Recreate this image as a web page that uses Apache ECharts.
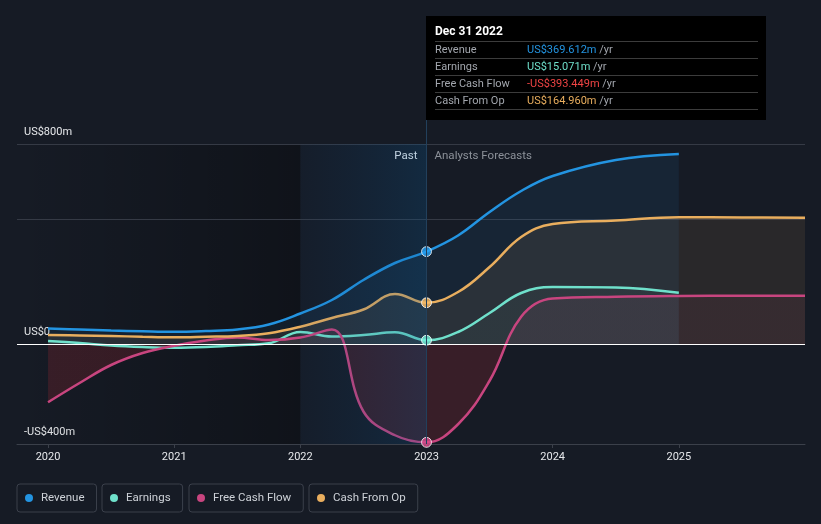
<!DOCTYPE html>
<html><head><meta charset="utf-8">
<script src="https://cdn.jsdelivr.net/npm/echarts@6/dist/echarts.min.js"></script>
<style>html,body{margin:0;padding:0;background:#161b25;}#c{width:821px;height:524px;}</style>
</head><body><div id="c"></div>
<script>
// ---- data ----
const xYears = [2020, 2020.25, 2020.5, 2020.75, 2021, 2021.25, 2021.5, 2021.75, 2022, 2022.25, 2022.5, 2022.75, 2023,
                2023.25, 2023.5, 2023.75, 2024, 2024.5, 2025, 2025.5, 2026];
const revenue      = [62, 58, 54, 51, 49, 52, 58, 78, 122, 176, 256, 324, 369.612, 434, 528, 612, 672, 736, 760, null, null];
const earnings     = [12, 4, -6, -12, -15, -12, -5, 3, 48, 30, 36, 47, 15.071, 48, 124, 204, 228, 226, 205, null, null];
const freeCashFlow = [-233, -156, -84, -36, -7, 14, 26, 16, 26, 58, -270, -365, -393.449, -321, -147, 109, 182, 189, 192, 193, 193];
const cashFromOp   = [36, 34, 32, 29, 27, 29, 32, 43, 69, 104, 138, 200, 164.96, 208, 308, 428, 480, 494, 507, 506, 505];
const seriesNames  = ['Revenue', 'Earnings', 'Free Cash Flow', 'Cash From Op'];
const xTickYears   = [2020, 2021, 2022, 2023, 2024, 2025];
const yTickValues  = [-400, 0, 800];
const yTickLabels  = ['-US$400m', 'US$0', 'US$800m'];
const gridValues   = [800, 500];
const tooltipDate  = 'Dec 31 2022';
const tooltipValues = ['US$369.612m', 'US$15.071m', '-US$393.449m', 'US$164.960m'];
const pastEnd = 2023, bandStart = 2022;
const xMin = 2019.754, xMax = 2026, yMin = -400, yMax = 1312;

// ---- styles ----
const colors = ['#2394e1', '#6fe0cb', '#c8457f', '#e9ae5e'];
const fills  = ['rgba(35,148,225,0.13)', 'rgba(111,224,203,0.06)', 'rgba(200,70,130,0.11)', 'rgba(233,174,94,0.135)'];
const tipColors = ['#2394e1', '#6fe0cb', '#ef4444', '#e9ae5e'];
const legendLefts = [17, 102, 189, 309];
const allVals = [revenue, earnings, freeCashFlow, cashFromOp];
const idxPast = xYears.indexOf(pastEnd);

function pairs(vals) {
  return xYears.map((x, i) => vals[i] == null ? null : [x, vals[i]]).filter(Boolean);
}

const chart = echarts.init(document.getElementById('c'), null, {renderer: 'canvas'});

const lineSeries = allVals.map((vals, i) => ({
  type: 'line', name: seriesNames[i], data: pairs(vals), smooth: 0.4,
  showSymbol: false, symbol: 'none', silent: true, z: 2,
  lineStyle: {color: colors[i], width: 2.5}, itemStyle: {color: colors[i]},
  areaStyle: {color: fills[i], origin: 'auto'},
  emphasis: {disabled: true}
}));

const tipHtml = () => {
  let h = '<div style="width:323px;font-family:Roboto,sans-serif;font-size:11px;">' +
    '<div style="color:#fff;font-weight:bold;font-size:12px;line-height:14px;margin-bottom:3px;">' + tooltipDate + '</div>';
  seriesNames.forEach((n, i) => {
    h += '<div style="display:flex;border-top:1px solid #3c3c3c;line-height:16px;height:16px;' +
      (i === seriesNames.length - 1 ? 'border-bottom:1px solid #3c3c3c;' : '') + '">' +
      '<span style="width:92px;color:#a3a7ae;">' + n + '</span>' +
      '<span style="color:' + tipColors[i] + ';">' + tooltipValues[i] + '</span>' +
      '<span style="color:#a3a7ae;">&nbsp;/yr</span></div>';
  });
  return h + '</div>';
};

const option = {
  animation: false,
  backgroundColor: '#161b25',
  textStyle: {fontFamily: 'Roboto'},
  grid: {left: 17, right: 16, top: 16, bottom: 80, outerBoundsMode: 'none'},
  xAxis: {
    type: 'value', min: xMin, max: xMax,
    axisLine: {show: true, onZero: false, lineStyle: {color: '#3b404a', width: 1}},
    axisTick: {show: true, customValues: xTickYears, length: 4, lineStyle: {color: '#3b404a'}},
    axisLabel: {customValues: xTickYears, formatter: v => String(v), color: '#e6e8eb', fontSize: 11, margin: 8},
    splitLine: {show: false}
  },
  yAxis: {
    type: 'value', min: yMin, max: yMax,
    axisLine: {show: false}, axisTick: {show: false}, splitLine: {show: false},
    axisLabel: {
      inside: true, margin: 7, customValues: yTickValues,
      formatter: v => { const k = yTickValues.indexOf(v); return k >= 0 ? yTickLabels[k] : ''; },
      color: '#e6e8eb', fontSize: 11, verticalAlign: 'bottom', lineHeight: 12, padding: [0, 0, 6, 0]
    }
  },
  tooltip: {
    trigger: 'axis', triggerOn: 'none', alwaysShowContent: true, transitionDuration: 0,
    backgroundColor: '#000', borderWidth: 0, padding: [8, 8, 10, 9],
    extraCssText: 'box-shadow:none;border-radius:0;',
    axisPointer: {type: 'line', lineStyle: {color: '#22405c', width: 1, type: 'solid'}, triggerEmphasis: false, animation: false},
    position: (pt) => [pt[0] - 1, 16],
    formatter: tipHtml
  },
  legend: seriesNames.map((n, i) => ({
    data: [n], left: legendLefts[i], top: 484, icon: 'circle', itemWidth: 14, itemHeight: 8,
    padding: [8, 12, 8, 8], borderColor: '#3b404b', borderWidth: 1, borderRadius: 3,
    selectedMode: false, textStyle: {color: '#cdd1d7', fontSize: 11.5, fontFamily: 'Roboto'}
  })),
  series: [
    ...lineSeries,
    {
      type: 'line', name: '_past', data: [], silent: true, z: 0,
      markArea: {
        silent: true, z: 1, label: {show: false},
        itemStyle: {color: new echarts.graphic.LinearGradient(0, 0, 1, 0, [
          {offset: 0, color: 'rgba(0,0,0,0)'}, {offset: 1, color: 'rgba(0,0,0,0.3)'}])},
        data: [[{xAxis: xMin, yAxis: yMin}, {xAxis: bandStart, yAxis: gridValues[0]}]]
      },
      markLine: {
        silent: true, symbol: 'none', z: 1, label: {show: false},
        lineStyle: {color: '#353a45', width: 1, type: 'solid'},
        data: gridValues.map(v => ({yAxis: v}))
      }
    },
    {
      type: 'line', name: '_band', data: [], silent: true, z: 3,
      markArea: {
        silent: true, z: 3, label: {show: false},
        itemStyle: {color: new echarts.graphic.LinearGradient(0, 0, 1, 0, [
          {offset: 0, color: 'rgba(10,70,130,0.06)'}, {offset: 1, color: 'rgba(8,90,150,0.24)'}])},
        data: [[{xAxis: bandStart, yAxis: yMin}, {xAxis: pastEnd, yAxis: gridValues[0]}]]
      },
      markLine: {
        silent: true, symbol: 'none', z: 5, label: {show: false},
        lineStyle: {color: '#ffffff', width: 1.2, type: 'solid'},
        data: [{yAxis: 0}]
      }
    },
    {
      type: 'scatter', name: '_dots', silent: true, z: 6, symbolSize: 9,
      itemStyle: {borderColor: '#ffffff', borderWidth: 1},
      data: allVals.map((vals, i) => ({value: [pastEnd, vals[idxPast]], itemStyle: {color: colors[i]}}))
    }
  ]
};

chart.setOption(option);

// FCF / earnings fills: pinkish above zero, red below zero (split at the zero line via the axis scale)
const H = chart.getHeight();
const zeroY = chart.convertToPixel({yAxisIndex: 0}, 0);
const zf = zeroY / H;
const splitFill = (top, bottom) => new echarts.graphic.LinearGradient(0, 0, 0, H, [
  {offset: 0, color: top}, {offset: zf, color: top}, {offset: zf, color: bottom}, {offset: 1, color: bottom}], true);
const px = chart.convertToPixel({xAxisIndex: 0}, pastEnd);
const py = chart.convertToPixel({yAxisIndex: 0}, gridValues[0]);
chart.setOption({
  series: [
    {}, {areaStyle: {color: splitFill('rgba(111,224,203,0.06)', 'rgba(111,224,203,0.06)')}},
    {areaStyle: {color: splitFill('rgba(200,70,130,0.11)', 'rgba(225,45,55,0.24)')}}
  ],
  graphic: [
    {type: 'text', x: px - 9, y: py + 12, silent: true,
     style: {text: 'Past', align: 'right', verticalAlign: 'middle', fill: '#eef0f3', fontSize: 11.5, fontFamily: 'Roboto'}},
    {type: 'text', x: px + 8, y: py + 12, silent: true,
     style: {text: 'Analysts Forecasts', align: 'left', verticalAlign: 'middle', fill: '#8c9199', fontSize: 11.5, fontFamily: 'Roboto'}}
  ]
});

chart.dispatchAction({type: 'showTip', seriesIndex: 0, dataIndex: idxPast});
</script>
</body></html>
